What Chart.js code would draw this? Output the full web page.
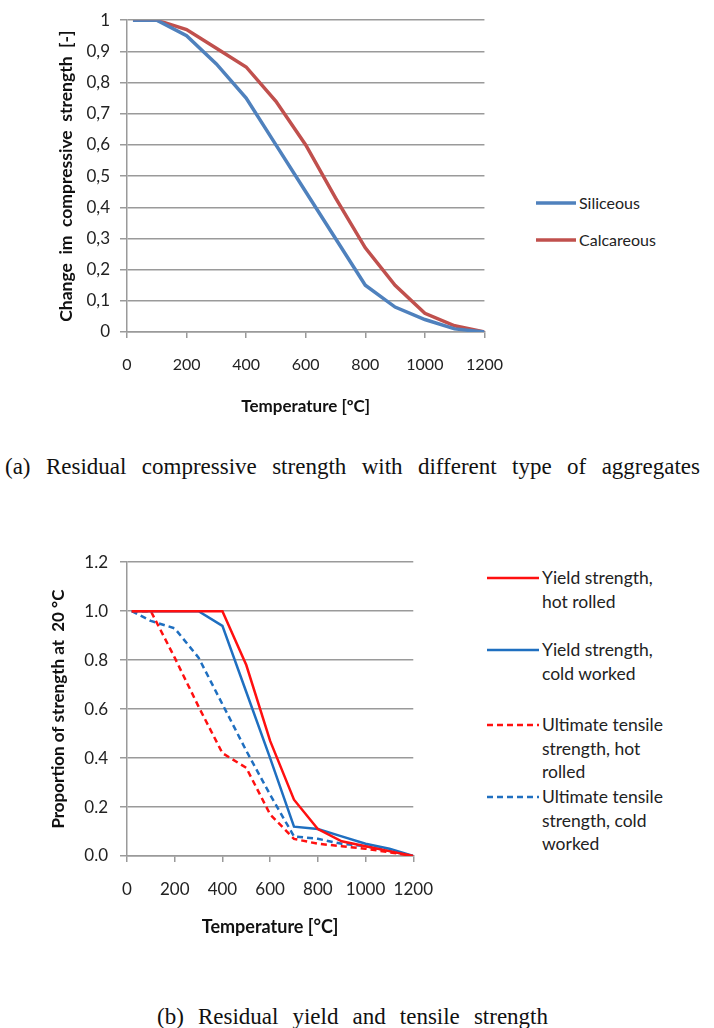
<!DOCTYPE html>
<html>
<head>
<meta charset="utf-8">
<script src="https://cdn.jsdelivr.net/npm/chart.js@4.4.1/dist/chart.umd.min.js"></script>
<style>
  body { margin: 0; background: #fff; width: 714px; height: 1028px; position: relative; overflow: hidden; font-family: Lato, sans-serif; }
  canvas { position: absolute; }
  .legend { position: absolute; color: #222; font-size: 16px; }
  #legendB { font-size: 17.5px; }
  .item { position: absolute; white-space: nowrap; line-height: 23.5px; }
  .item svg { position: absolute; }
  .caption { position: absolute; font-family: "Liberation Serif", serif; font-size: 23px; line-height: 26px; color: #111; text-align: justify; text-align-last: justify; white-space: nowrap; }
</style>
</head>
<body>
<canvas id="chartA" width="520" height="420" style="left:0;top:0"></canvas>
<div class="legend" id="legendA"></div>
<div class="caption" style="left:5px;top:454px;width:695px">(a) Residual compressive strength with different type of aggregates</div>

<canvas id="chartB" width="450" height="420" style="left:0;top:540px"></canvas>
<div class="legend" id="legendB"></div>
<div class="caption" style="left:157px;top:1004px;width:391px">(b) Residual yield and tensile strength</div>

<script>
// temperatures (°C)
var temps = [20, 100, 200, 300, 400, 500, 600, 700, 800, 900, 1000, 1100, 1200];

// chart (a) - concrete
var siliceous  = [1, 1, 0.95, 0.86, 0.75, 0.60, 0.45, 0.30, 0.15, 0.08, 0.04, 0.01, 0];
var calcareous = [1, 1, 0.97, 0.91, 0.85, 0.74, 0.60, 0.43, 0.27, 0.15, 0.06, 0.02, 0];

// chart (b) - steel
var yieldHot   = [1, 1, 1, 1, 1, 0.78, 0.47, 0.23, 0.11, 0.06, 0.04, 0.02, 0];
var yieldCold  = [1, 1, 1, 1, 0.94, 0.67, 0.40, 0.12, 0.11, 0.08, 0.05, 0.03, 0];
var ultHot     = [1, 1, 0.81, 0.61, 0.42, 0.36, 0.17, 0.07, 0.05, 0.04, 0.03, 0.015, 0];
var ultCold    = [1, 0.96, 0.93, 0.81, 0.62, 0.43, 0.25, 0.08, 0.07, 0.05, 0.04, 0.02, 0];

var xTicks = [0, 200, 400, 600, 800, 1000, 1200];

function pts(vals) {
  return vals.map(function(v, i) { return { x: temps[i], y: v }; });
}

var gridCol = '#9a9a9a';
var textCol = '#222';

function makeChart(id, sets, opt) {
  var ctx = document.getElementById(id).getContext('2d');
  return new Chart(ctx, {
    type: 'line',
    data: { datasets: sets },
    options: {
      responsive: false,
      animation: false,
      devicePixelRatio: 1,
      layout: { padding: { top: opt.padTop, right: opt.padRight, left: 0, bottom: 0 } },
      plugins: { legend: { display: false }, tooltip: { enabled: false } },
      elements: { point: { radius: 0 }, line: { tension: 0 } },
      scales: {
        x: {
          type: 'linear', min: 0, max: 1200,
          afterBuildTicks: function(s) { s.ticks = xTicks.map(function(v) { return { value: v }; }); },
          afterFit: function(s) { s.height = opt.xHeight; },
          ticks: { autoSkip: false, maxRotation: 0, color: textCol, padding: opt.xTickPad,
                   font: { family: 'Lato', size: opt.xFont },
                   callback: function(v) { return String(v); } },
          grid: { drawOnChartArea: false, drawTicks: true, tickLength: 6, color: gridCol, lineWidth: 1.5 },
          border: { color: gridCol, width: 1.5 },
          title: { display: true, text: opt.xTitle, color: '#111',
                   font: { family: 'Lato', size: opt.xTitleSize, weight: 'bold' }, padding: { top: 0, bottom: opt.xTitlePad } }
        },
        y: {
          min: 0, max: opt.yMax,
          afterFit: function(s) { s.width = 127; },
          ticks: { stepSize: opt.yStep, color: textCol, padding: opt.yTickPad,
                   font: { family: 'Lato', size: opt.yFont }, callback: opt.yFmt },
          grid: { color: gridCol, lineWidth: 1.5, tickLength: 7 },
          border: { color: gridCol, width: 1.5 },
          title: { display: true, text: opt.yTitle, color: '#111',
                   font: { family: 'Lato', size: opt.yTitleSize, weight: 'bold' }, padding: { top: opt.yTitlePad, bottom: 0 } }
        }
      }
    }
  });
}

makeChart('chartA', [
  { label: 'Siliceous', data: pts(siliceous), borderColor: '#4F81BD', borderWidth: 3.5 },
  { label: 'Calcareous', data: pts(calcareous), borderColor: '#C0504D', borderWidth: 3.5 }
], {
  padTop: 19, padRight: 27, xHeight: 88, xTickPad: 17, xFont: 16, xTitlePad: 3, xTitleSize: 17,
  xTitle: 'Temperature [ºC]', yMax: 1, yStep: 0.1, yTickPad: 10, yFont: 17,
  yTitle: 'Change  im  compressive  strength  [-]', yTitlePad: 56, yTitleSize: 17.5,
  yFmt: function(v) { return (v === 0 || v === 1) ? String(v) : v.toFixed(1).replace('.', ','); }
});

makeChart('chartB', [
  { label: 'Yield strength, hot rolled', data: pts(yieldHot), borderColor: '#FF1010', borderWidth: 2.5 },
  { label: 'Yield strength, cold worked', data: pts(yieldCold), borderColor: '#1F6FC0', borderWidth: 2.5 },
  { label: 'Ultimate tensile strength, hot rolled', data: pts(ultHot), borderColor: '#FF1010', borderWidth: 2.5, borderDash: [6, 4] },
  { label: 'Ultimate tensile strength, cold worked', data: pts(ultCold), borderColor: '#1F6FC0', borderWidth: 2.5, borderDash: [6, 4] }
], {
  padTop: 21, padRight: 29, xHeight: 104, xTickPad: 17, xFont: 17, xTitlePad: 22, xTitleSize: 18,
  xTitle: 'Temperature [°C]', yMax: 1.2, yStep: 0.2, yTickPad: 12, yFont: 17,
  yTitle: 'Proportion of strength at  20 °C', yTitlePad: 48, yTitleSize: 17,
  yFmt: function(v) { return v.toFixed(1); }
});

// HTML legends (multi-line labels)
function legend(id, items) {
  var box = document.getElementById(id);
  items.forEach(function(it) {
    var d = document.createElement('div');
    d.className = 'item';
    d.style.left = it.x + 'px';
    d.style.top = it.y + 'px';
    var w = it.len;
    d.innerHTML = '<svg width="' + w + '" height="6" style="left:' + (-w - 3) + 'px;top:' + (it.lineY - 3) + 'px">' +
      '<line x1="0" y1="3" x2="' + w + '" y2="3" stroke="' + it.color + '" stroke-width="' + it.width + '"' +
      (it.dash ? ' stroke-dasharray="6,4"' : '') + '/></svg>' + it.text;
    box.appendChild(d);
  });
}

legend('legendA', [
  { x: 579, y: 191, lineY: 12, len: 40, color: '#4F81BD', width: 3.5, text: 'Siliceous' },
  { x: 579, y: 228, lineY: 12, len: 40, color: '#C0504D', width: 3.5, text: 'Calcareous' }
]);

legend('legendB', [
  { x: 542, y: 566, lineY: 12, len: 52, color: '#FF1010', width: 2.5, text: 'Yield strength,<br>hot rolled' },
  { x: 542, y: 638, lineY: 12, len: 52, color: '#1F6FC0', width: 2.5, text: 'Yield strength,<br>cold worked' },
  { x: 542, y: 713, lineY: 12, len: 52, color: '#FF1010', width: 2.5, dash: true, text: 'Ultimate tensile<br>strength, hot<br>rolled' },
  { x: 542, y: 785, lineY: 12, len: 52, color: '#1F6FC0', width: 2.5, dash: true, text: 'Ultimate tensile<br>strength, cold<br>worked' }
]);
</script>
</body>
</html>
